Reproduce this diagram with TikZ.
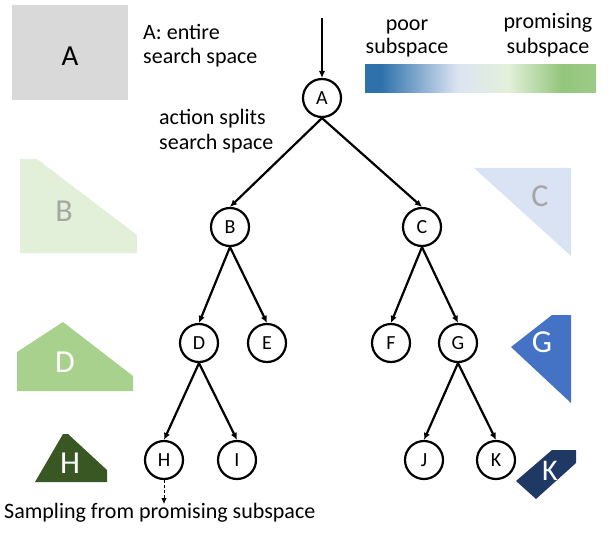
\documentclass[tikz,border=0pt]{standalone}
\usepackage{fontspec}
\setmainfont{Carlito}
\usetikzlibrary{arrows.meta}
\definecolor{boxgray}{HTML}{D9D9D9}
\definecolor{lgreen}{HTML}{E2F0D9}
\definecolor{mgreen}{HTML}{A9D18E}
\definecolor{dgreen}{HTML}{385723}
\definecolor{lblue}{HTML}{DAE3F3}
\definecolor{mblue}{HTML}{4472C4}
\definecolor{dblue}{HTML}{203864}
\definecolor{lettergray}{HTML}{A5A5A5}
\definecolor{barA}{HTML}{2E72AC}
\definecolor{barB}{HTML}{DCE4F3}
\definecolor{barC}{HTML}{E3F0DA}
\definecolor{barD}{HTML}{94C67D}
\definecolor{barE}{HTML}{9CCB85}
\pgfdeclarehorizontalshading{barshade}{100bp}{color(0bp)=(barA); color(28.5bp)=(barA); color(45bp)=(barB); color(56bp)=(barC); color(67.5bp)=(barD); color(75bp)=(barE); color(100bp)=(barE)}
\begin{document}
\begin{tikzpicture}[x=1pt,y=-1pt,
  tnode/.style={circle, draw, line width=2.2pt, minimum size=38pt, inner sep=0pt, font=\fontsize{20}{20}\selectfont},
  txt/.style={inner sep=0pt, font=\fontsize{22}{24}\selectfont},
  big/.style={inner sep=0pt, font=\fontsize{32}{32}\selectfont},
  arr/.style={line width=2.2pt, -{Latex[length=7pt,width=6.5pt]}},
  darr/.style={line width=0.8pt, densely dashed, -{Latex[length=6pt,width=5.5pt]}}
]
\useasboundingbox (0,0) rectangle (612,537);
% legend shapes
\fill[boxgray] (12,5) rectangle (128,100);
\node[inner sep=0pt, font=\fontsize{29}{29}\selectfont] (sA) at (70,56) {A};
\fill[lgreen] (20,159) -- (37,159) -- (137,235) -- (137,253) -- (20,253) -- cycle;
\node[big, text=lettergray] (sB) at (64,211) {B};
\fill[mgreen] (17,352) -- (63,322) -- (133,376) -- (133,391) -- (17,391) -- cycle;
\node[big, text=white] (sD) at (65,362) {D};
\fill[dgreen] (35,482) -- (63,434) -- (68,434) -- (107,470) -- (107,482) -- cycle;
\node[big, text=white] (sH) at (70,463) {H};
\fill[lblue] (474,168) -- (571,168) -- (571,256) -- cycle;
\node[big, text=lettergray] (sC) at (540,196) {C};
\fill[mblue] (511,347) -- (552,315) -- (571,315) -- (571,403) -- cycle;
\node[big, text=white] (sG) at (542,342) {G};
\fill[dblue] (516,481) -- (552,450) -- (576,450) -- (576,463) -- (536,499) -- cycle;
\node[big, text=white, font=\fontsize{30}{30}\selectfont] (sK) at (550,471) {K};
% gradient bar
\fill[shading=barshade] (365,65) rectangle (596,93);
% texts
\node[txt, anchor=base west] (la1) at (143,40) {A: entire};
\node[txt, anchor=base west] (la2) at (143,64) {search space};
\node[txt, anchor=base west] (ls1) at (159,125) {action splits};
\node[txt, anchor=base west] (ls2) at (159,150) {search space};
\node[txt, anchor=base] (lp1) at (407,31) {poor};
\node[txt, anchor=base] (lp2) at (407,54) {subspace};
\node[txt, anchor=base] (lq1) at (548,29) {promising};
\node[txt, anchor=base] (lq2) at (548,54) {subspace};
\node[txt, anchor=base west] (samp) at (4,518) {Sampling from promising subspace};
% tree
\node[tnode] (A) at (322,98) {A};
\node[tnode] (B) at (230,227) {B};
\node[tnode] (C) at (422,227) {C};
\node[tnode] (D) at (199,343) {D};
\node[tnode] (E) at (267,343) {E};
\node[tnode] (F) at (391,343) {F};
\node[tnode] (G) at (458,343) {G};
\node[tnode] (H) at (164,460) {H};
\node[tnode] (I) at (237,460) {I};
\node[tnode] (J) at (424,460) {J};
\node[tnode] (K) at (496,460) {K};
\coordinate (top) at (322,18);
\coordinate (sampend) at (164,504);
\draw[arr] (top) -- (A.north);
\draw[arr] (A.south) -- (B.north);
\draw[arr] (A.south) -- (C.north);
\draw[arr] (B.south) -- (D.north);
\draw[arr] (B.south) -- (E.north);
\draw[arr] (C.south) -- (F.north);
\draw[arr] (C.south) -- (G.north);
\draw[arr] (D.south) -- (H.north);
\draw[arr] (D.south) -- (I.north);
\draw[arr] (G.south) -- (J.north);
\draw[arr] (G.south) -- (K.north);
\draw[darr] (H.south) -- (sampend);
\end{tikzpicture}
\end{document}
